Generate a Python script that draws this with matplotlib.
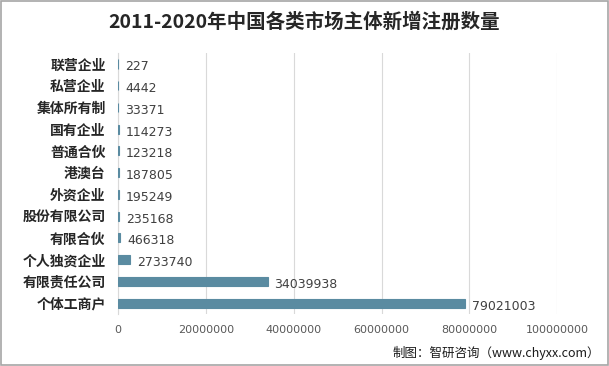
import matplotlib
matplotlib.use('Agg')
import matplotlib.pyplot as plt
from matplotlib.patches import Rectangle

plt.rcParams['font.family'] = ['Noto Sans CJK SC', 'DejaVu Sans']

categories = ['联营企业', '私营企业', '集体所有制', '国有企业', '普通合伙', '港澳台',
              '外资企业', '股份有限公司', '有限合伙', '个人独资企业', '有限责任公司', '个体工商户']
values = [227, 4442, 33371, 114273, 123218, 187805,
          195249, 235168, 466318, 2733740, 34039938, 79021003]
xticks = [0, 20000000, 40000000, 60000000, 80000000, 100000000]

bar_color = '#5a8ba1'

fig = plt.figure(figsize=(6.09, 3.66), dpi=100)
ax = fig.add_axes([0.194, 0.142, 0.721, 0.713])

y = list(range(len(categories)))[::-1]
ax.barh(y, values, height=0.42, color=bar_color, edgecolor=bar_color,
        linewidth=0.8, zorder=3)

for yi, v in zip(y, values):
    ax.annotate(str(v), (v, yi), xytext=(5, -1), textcoords='offset points',
                ha='left', va='center_baseline', fontsize=9, color='#404040',
                family='DejaVu Sans')

ax.set_xlim(0, 100000000)
ax.set_ylim(-0.5, len(categories) - 0.5)
ax.set_xticks(xticks)
ax.set_xticklabels([str(t) for t in xticks], fontsize=8, color='#595959',
                   family='DejaVu Sans')
ax.set_yticks(y)
ax.set_yticklabels(categories, fontsize=10, fontweight='bold', color='#262626')
ax.tick_params(axis='y', length=0, pad=9)
ax.tick_params(axis='x', length=0, pad=8)
ax.grid(axis='x', color='#d9d9d9', linewidth=0.8, zorder=0)
for s in ['top', 'right', 'bottom']:
    ax.spines[s].set_visible(False)
ax.spines['left'].set_color('#d9d9d9')
ax.spines['left'].set_linewidth(0.8)

fig.text(0.5, 0.94, '2011-2020年中国各类市场主体新增注册数量', ha='center', va='center',
         fontsize=14, fontweight='bold', color='#262626')
fig.text(0.985, 0.035, '制图：智研咨询（www.chyxx.com）', ha='right', va='center',
         fontsize=9, color='#1a1a1a')

fig.patches.append(Rectangle((0.001, 0.002), 0.997, 0.995, transform=fig.transFigure,
                             fill=False, edgecolor='#a6a6a6', linewidth=1.2))

fig.savefig('out.png', dpi=100)
